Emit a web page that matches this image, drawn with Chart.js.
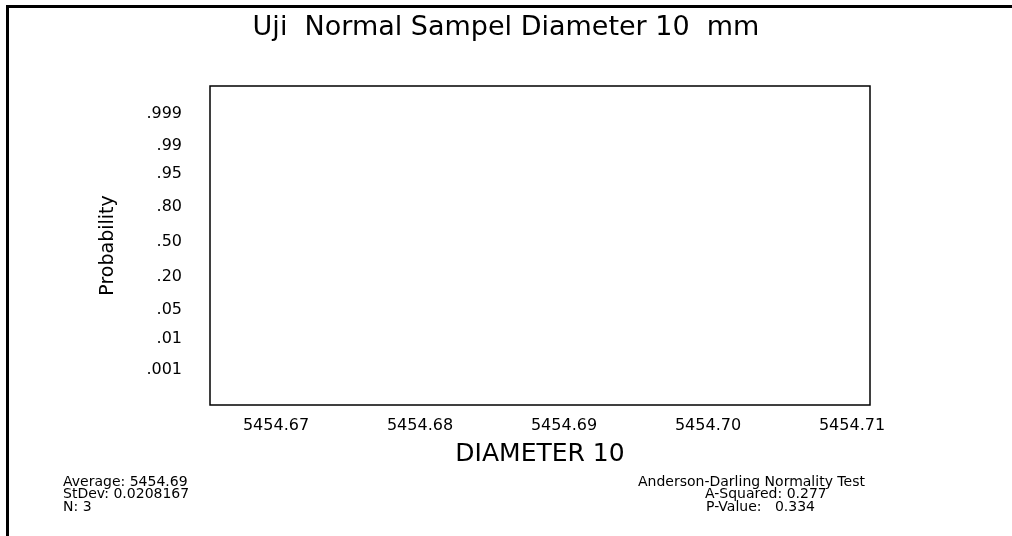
<!DOCTYPE html>
<html>
<head>
<meta charset="utf-8">
<script src="https://cdn.jsdelivr.net/npm/chart.js@4.4.0/dist/chart.umd.min.js"></script>
<style>
  body { margin: 0; background: #fff; }
  canvas { display: block; }
</style>
</head>
<body>
<canvas id="probChart" width="1012" height="536"></canvas>
<script>
// probability ticks on the normal scale
const probTicks = [0.001, 0.01, 0.05, 0.20, 0.50, 0.80, 0.95, 0.99, 0.999];
const probLabels = ['.001', '.01', '.05', '.20', '.50', '.80', '.95', '.99', '.999'];

// diameter ticks
const diameterTicks = [5454.67, 5454.68, 5454.69, 5454.70, 5454.71];

// plotted points (none visible in the picture)
const diameterValues = [];
const probValues = [];

const statsLeft = ['Average: 5454.69', 'StDev: 0.0208167', 'N: 3'];
const statsRight = ['Anderson-Darling Normality Test', 'A-Squared: 0.277', 'P-Value:   0.334'];

// inverse of the standard normal cdf (Acklam)
function normInv(p) {
    const a = [-39.69683028665376, 220.9460984245205, -275.9285104469687, 138.3577518672690, -30.66479806614716, 2.506628277459239];
    const b = [-54.47609879822406, 161.5858368580409, -155.6989798598866, 66.80131188771972, -13.28068155288572];
    const c = [-0.007784894002430293, -0.3223964580411365, -2.400758277161838, -2.549732539343734, 4.374664141464968, 2.938163982698783];
    const d = [0.007784695709041462, 0.3224671290700398, 2.445134137142996, 3.754408661907416];
    const pl = 0.02425;
    let q, r;
    if (p < pl) {
        q = Math.sqrt(-2 * Math.log(p));
        return (((((c[0]*q+c[1])*q+c[2])*q+c[3])*q+c[4])*q+c[5]) / ((((d[0]*q+d[1])*q+d[2])*q+d[3])*q+1);
    }
    if (p > 1 - pl) {
        q = Math.sqrt(-2 * Math.log(1 - p));
        return -(((((c[0]*q+c[1])*q+c[2])*q+c[3])*q+c[4])*q+c[5]) / ((((d[0]*q+d[1])*q+d[2])*q+d[3])*q+1);
    }
    q = p - 0.5;
    r = q * q;
    return (((((a[0]*r+a[1])*r+a[2])*r+a[3])*r+a[4])*r+a[5])*q / (((((b[0]*r+b[1])*r+b[2])*r+b[3])*r+b[4])*r+1);
}

const FONT = "'DejaVu Sans', sans-serif";
Chart.defaults.color = '#000';
Chart.defaults.font.family = FONT;

const framePlugin = {
    id: 'frame',
    afterDraw(chart) {
        const ctx = chart.ctx;
        const a = chart.chartArea;
        ctx.save();
        // page frame
        ctx.fillStyle = '#000';
        ctx.fillRect(6, 5, 3, 531);
        ctx.fillRect(6, 5, 1006, 3);
        // plot box
        ctx.strokeStyle = '#000';
        ctx.lineWidth = 1.5;
        ctx.strokeRect(a.left, a.top, a.right - a.left, a.bottom - a.top);
        // stats text
        ctx.font = '14px ' + FONT;
        ctx.textBaseline = 'middle';
        ctx.textAlign = 'left';
        statsLeft.forEach((t, i) => ctx.fillText(t, 63, 482 + i * 12.5));
        ctx.fillText(statsRight[0], 638, 482);
        ctx.fillText(statsRight[1], 705, 494.5);
        ctx.fillText(statsRight[2], 706, 507);
        ctx.restore();
    }
};

function createProbabilityChart() {
    const ctx = document.getElementById('probChart').getContext('2d');

    const points = diameterValues.map((x, i) => ({ x: x, y: normInv(probValues[i]) }));

    new Chart(ctx, {
        type: 'scatter',
        data: {
            datasets: [{
                data: points,
                backgroundColor: '#000',
                borderColor: '#000',
                pointRadius: 3
            }]
        },
        options: {
            responsive: false,
            animation: false,
            layout: { padding: 0 },
            plugins: {
                legend: { display: false },
                tooltip: { enabled: false },
                title: {
                    display: true,
                    text: 'Uji  Normal Sampel Diameter 10  mm',
                    font: { size: 27, weight: 'normal', family: FONT },
                    color: '#000',
                    padding: { top: 12, bottom: 41.6 }
                }
            },
            scales: {
                x: {
                    type: 'linear',
                    min: 5454.665417,
                    max: 5454.71125,
                    grid: { display: false, drawTicks: false },
                    border: { display: false },
                    afterBuildTicks: s => { s.ticks = diameterTicks.map(v => ({ value: v })); },
                    afterFit: s => { s.height = 131; },
                    ticks: {
                        padding: 11,
                        font: { size: 16 },
                        callback: v => Number(v).toFixed(2)
                    },
                    title: {
                        display: true,
                        text: 'DIAMETER 10',
                        font: { size: 25 },
                        padding: { top: 0, bottom: 67 }
                    }
                },
                y: {
                    type: 'linear',
                    min: -3.93,
                    max: 3.76,
                    grid: { display: false, drawTicks: false },
                    border: { display: false },
                    afterBuildTicks: s => { s.ticks = probTicks.map(p => ({ value: normInv(p) })); },
                    afterFit: s => { s.width = 210; },
                    ticks: {
                        padding: 28,
                        font: { size: 16 },
                        callback: (v, i) => probLabels[i]
                    },
                    title: {
                        display: true,
                        text: 'Probability',
                        font: { size: 19 },
                        padding: { top: 96.6, bottom: 0 }
                    }
                },
                yRight: {
                    type: 'linear',
                    position: 'right',
                    display: true,
                    grid: { display: false, drawTicks: false },
                    border: { display: false },
                    ticks: { display: false },
                    afterFit: s => { s.width = 142; }
                }
            }
        },
        plugins: [framePlugin]
    });
}

createProbabilityChart();
</script>
</body>
</html>
